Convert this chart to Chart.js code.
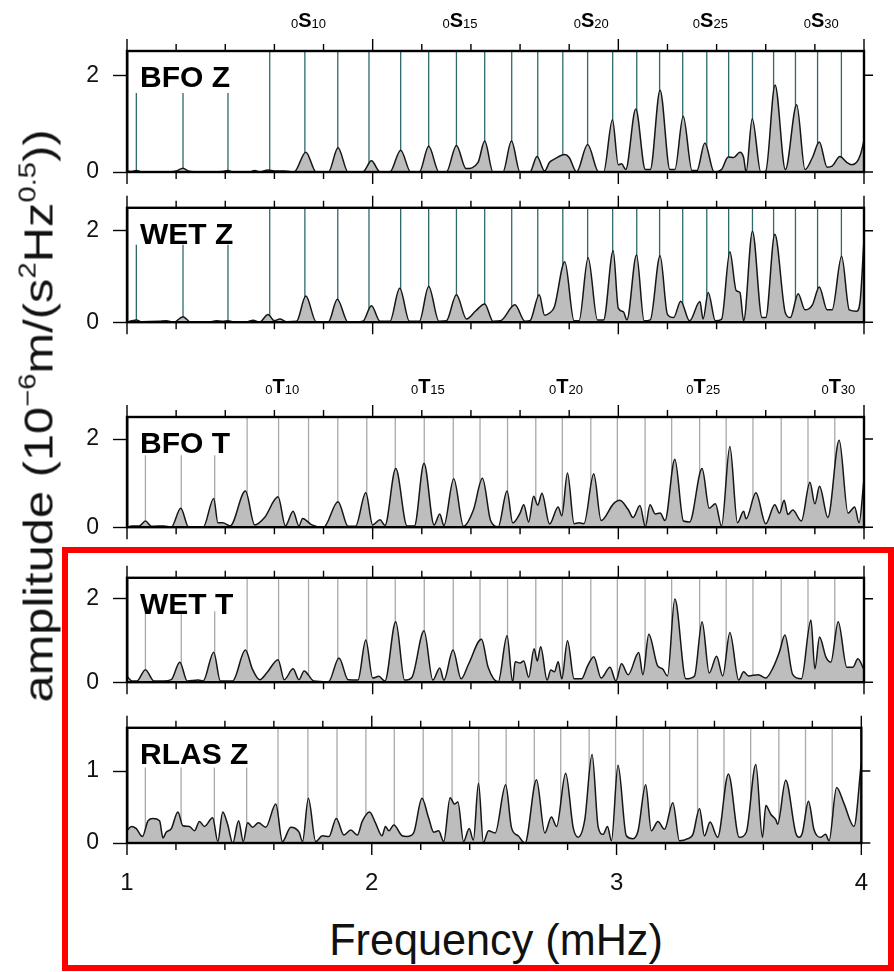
<!DOCTYPE html>
<html>
<head>
<meta charset="utf-8">
<script src="https://cdn.jsdelivr.net/npm/chart.js@4.4.1/dist/chart.umd.min.js"></script>
<style>
  body { margin: 0; background: #fff; width: 894px; height: 972px; position: relative; overflow: hidden; font-family: Arial, "Liberation Sans", sans-serif; }
  canvas { position: absolute; left: 0; }
  #ytitle { position: absolute; left: 39px; top: 416px; white-space: nowrap; font-size: 40px; color: #111;
            transform: translate(-50%, -50%) rotate(-90deg) scale(1.22, 1); }
  #ytitle sup { font-size: 60%; vertical-align: 0.7em; line-height: 0; }
  #xtitle { position: absolute; left: 496px; top: 940px; white-space: nowrap; font-size: 40px; color: #111;
            transform: translate(-50%, -50%) scale(1.08, 1.1); }
  #redbox { position: absolute; left: 62px; top: 547px; width: 832px; height: 424px; box-sizing: border-box;
            border: 6px solid #ff0000; pointer-events: none; }
</style>
</head>
<body>
<canvas id="bfoZ"></canvas>
<canvas id="wetZ"></canvas>
<canvas id="bfoT"></canvas>
<canvas id="wetT"></canvas>
<canvas id="rlasZ"></canvas>
<div id="ytitle">amplitude (10<sup>−6</sup>m/(s<sup>2</sup>Hz<sup>0.5</sup>))</div>
<div id="xtitle">Frequency (mHz)</div>
<div id="redbox"></div>
<script>
// spheroidal (0S6 .. 0S31) and toroidal (0T6 .. 0T30) mode frequencies, mHz
const sModeFreq = [1.038, 1.228, 1.411, 1.581, 1.724, 1.858, 1.985, 2.114, 2.228, 2.341,
                   2.456, 2.566, 2.672, 2.774, 2.875, 2.977, 3.075, 3.168, 3.262, 3.360,
                   3.449, 3.546, 3.632, 3.721, 3.811, 3.908];
const tModeFreq = [1.075, 1.221, 1.357, 1.489, 1.617, 1.739, 1.858, 1.976, 2.092, 2.210,
                   2.328, 2.437, 2.549, 2.664, 2.772, 2.888, 2.996, 3.109, 3.217, 3.331,
                   3.439, 3.548, 3.663, 3.772, 3.881];
const firstDegree = 6;
const labelDegrees = [10, 15, 20, 25, 30];

const xTickValues = [1, 2, 3, 4];
const zTickValues = [0, 2];
const rlasTickValues = [0, 1];

const bfoZFreq = [
  1.00, 1.02, 1.038, 1.06, 1.15, 1.20, 1.228, 1.25, 1.30, 1.39,
  1.411, 1.43, 1.50, 1.52, 1.54, 1.574, 1.60, 1.64, 1.68, 1.728,
  1.77, 1.82, 1.859, 1.90, 1.96, 1.995, 2.03, 2.07, 2.114, 2.155,
  2.19, 2.228, 2.27, 2.30, 2.341, 2.38, 2.429, 2.456, 2.49, 2.53,
  2.565, 2.60, 2.64, 2.669, 2.70, 2.72, 2.741, 2.782, 2.80, 2.83,
  2.875, 2.92, 2.94, 2.976, 3.00, 3.013, 3.03, 3.071, 3.11, 3.13,
  3.17, 3.21, 3.23, 3.264, 3.30, 3.32, 3.352, 3.39, 3.42, 3.447,
  3.47, 3.495, 3.51, 3.52, 3.545, 3.58, 3.60, 3.638, 3.68, 3.726,
  3.76, 3.79, 3.818, 3.85, 3.87, 3.902, 3.93, 3.95, 3.97, 3.985,
  4.00
];
const bfoZAmp = [
  0.02, 0.01, 0.03, 0.00, 0.00, 0.02, 0.08, 0.02, 0.00, 0.01,
  0.03, 0.00, 0.00, 0.03, 0.00, 0.04, 0.02, 0.02, 0.00, 0.41,
  0.00, 0.00, 0.50, 0.00, 0.00, 0.23, 0.00, 0.00, 0.45, 0.00,
  0.00, 0.53, 0.00, 0.00, 0.55, 0.07, 0.20, 0.64, 0.00, 0.00,
  0.64, 0.00, 0.00, 0.32, 0.02, 0.20, 0.27, 0.36, 0.30, 0.00,
  0.57, 0.00, 0.00, 1.08, 0.15, 0.17, 0.05, 1.30, 0.05, 0.05,
  1.69, 0.05, 0.05, 1.15, 0.03, 0.03, 0.60, 0.00, 0.05, 0.31,
  0.30, 0.41, 0.30, 0.00, 1.10, 0.00, 0.02, 1.80, 0.05, 1.39,
  0.05, 0.30, 0.62, 0.10, 0.12, 0.32, 0.20, 0.15, 0.20, 0.35,
  0.65
];

const wetZFreq = [
  1.00, 1.02, 1.038, 1.06, 1.13, 1.16, 1.19, 1.228, 1.26, 1.33,
  1.364, 1.39, 1.411, 1.44, 1.49, 1.513, 1.54, 1.574, 1.60, 1.622,
  1.65, 1.69, 1.728, 1.77, 1.82, 1.856, 1.90, 1.96, 1.995, 2.03,
  2.07, 2.11, 2.15, 2.19, 2.228, 2.27, 2.30, 2.341, 2.382, 2.42,
  2.456, 2.49, 2.52, 2.579, 2.62, 2.64, 2.678, 2.70, 2.72, 2.74,
  2.782, 2.82, 2.84, 2.877, 2.915, 2.94, 2.979, 3.00, 3.02, 3.035,
  3.074, 3.105, 3.13, 3.17, 3.20, 3.225, 3.254, 3.29, 3.332, 3.345,
  3.366, 3.395, 3.42, 3.454, 3.48, 3.495, 3.51, 3.546, 3.585, 3.60,
  3.637, 3.68, 3.70, 3.732, 3.76, 3.79, 3.818, 3.85, 3.87, 3.909,
  3.94, 3.97, 3.985, 4.00
];
const wetZAmp = [
  0.00, 0.03, 0.05, 0.01, 0.02, 0.03, 0.00, 0.12, 0.00, 0.00,
  0.03, 0.02, 0.03, 0.00, 0.01, 0.04, 0.00, 0.17, 0.03, 0.07,
  0.01, 0.02, 0.57, 0.01, 0.01, 0.50, 0.00, 0.02, 0.36, 0.02,
  0.02, 0.74, 0.02, 0.02, 0.78, 0.02, 0.03, 0.60, 0.07, 0.25,
  0.40, 0.02, 0.03, 0.38, 0.02, 0.03, 0.60, 0.15, 0.20, 0.34,
  1.32, 0.03, 0.03, 1.41, 0.05, 0.05, 1.56, 0.30, 0.23, 0.05,
  1.47, 0.03, 0.05, 1.45, 0.17, 0.10, 0.46, 0.03, 0.45, 0.07,
  0.65, 0.03, 0.06, 1.54, 0.69, 0.65, 0.03, 1.99, 0.10, 0.10,
  1.92, 0.20, 0.10, 0.62, 0.27, 0.38, 0.77, 0.27, 0.27, 1.44,
  0.27, 0.24, 0.50, 1.82
];

const bfoTFreq = [
  1.00, 1.02, 1.05, 1.075, 1.10, 1.15, 1.18, 1.219, 1.25, 1.31,
  1.353, 1.37, 1.39, 1.42, 1.482, 1.52, 1.56, 1.615, 1.645, 1.676,
  1.70, 1.715, 1.75, 1.80, 1.859, 1.90, 1.93, 1.972, 2.00, 2.03,
  2.05, 2.094, 2.14, 2.17, 2.209, 2.25, 2.273, 2.29, 2.33, 2.37,
  2.41, 2.447, 2.48, 2.511, 2.547, 2.57, 2.60, 2.615, 2.635, 2.655,
  2.672, 2.689, 2.72, 2.755, 2.77, 2.793, 2.82, 2.84, 2.86, 2.90,
  2.93, 2.98, 3.006, 3.04, 3.06, 3.088, 3.11, 3.129, 3.15, 3.17,
  3.19, 3.23, 3.265, 3.29, 3.341, 3.37, 3.395, 3.42, 3.454, 3.485,
  3.51, 3.52, 3.56, 3.60, 3.637, 3.656, 3.675, 3.69, 3.71, 3.745,
  3.78, 3.80, 3.819, 3.853, 3.899, 3.935, 3.962, 3.98, 4.00
];
const bfoTAmp = [
  0.00, 0.03, 0.03, 0.14, 0.02, 0.03, 0.00, 0.43, 0.01, 0.00,
  0.65, 0.10, 0.10, 0.03, 0.82, 0.05, 0.22, 0.69, 0.03, 0.36,
  0.03, 0.20, 0.06, 0.00, 0.58, 0.02, 0.02, 0.78, 0.05, 0.17,
  0.04, 1.33, 0.03, 0.03, 1.45, 0.05, 0.30, 0.04, 1.10, 0.02,
  0.39, 1.11, 0.15, 0.01, 0.82, 0.10, 0.32, 0.51, 0.12, 0.70,
  0.50, 0.77, 0.07, 0.46, 0.26, 1.23, 0.08, 0.10, 0.08, 1.21,
  0.15, 0.53, 0.61, 0.40, 0.22, 0.49, 0.01, 0.51, 0.30, 0.32,
  0.15, 1.54, 0.14, 0.12, 1.33, 0.43, 0.53, 0.03, 1.83, 0.10,
  0.36, 0.19, 0.78, 0.08, 0.51, 0.32, 0.61, 0.29, 0.39, 0.14,
  1.02, 0.53, 0.93, 0.22, 1.97, 0.32, 0.46, 0.10, 1.10
];

const wetTFreq = [
  1.00, 1.02, 1.04, 1.075, 1.11, 1.15, 1.18, 1.215, 1.245, 1.29,
  1.31, 1.353, 1.38, 1.43, 1.482, 1.51, 1.54, 1.57, 1.615, 1.64,
  1.676, 1.70, 1.721, 1.76, 1.82, 1.863, 1.90, 1.94, 1.972, 2.00,
  2.025, 2.05, 2.094, 2.13, 2.16, 2.209, 2.245, 2.273, 2.29, 2.327,
  2.36, 2.39, 2.443, 2.47, 2.511, 2.547, 2.57, 2.58, 2.60, 2.615,
  2.635, 2.657, 2.67, 2.684, 2.71, 2.725, 2.74, 2.755, 2.77, 2.793,
  2.82, 2.85, 2.875, 2.90, 2.93, 2.966, 2.99, 3.013, 3.04, 3.083,
  3.10, 3.124, 3.16, 3.18, 3.20, 3.23, 3.275, 3.31, 3.341, 3.37,
  3.40, 3.425, 3.454, 3.49, 3.51, 3.53, 3.57, 3.60, 3.63, 3.656,
  3.678, 3.71, 3.745, 3.784, 3.80, 3.819, 3.845, 3.865, 3.895, 3.93,
  3.955, 3.975, 4.00
];
const wetTAmp = [
  0.14, 0.03, 0.03, 0.30, 0.03, 0.03, 0.06, 0.48, 0.03, 0.05,
  0.03, 0.72, 0.03, 0.03, 0.77, 0.32, 0.06, 0.23, 0.54, 0.06,
  0.32, 0.06, 0.27, 0.03, 0.01, 0.58, 0.06, 0.05, 1.01, 0.10,
  0.14, 0.03, 1.45, 0.05, 0.12, 1.23, 0.05, 0.34, 0.05, 0.77,
  0.08, 0.43, 1.03, 0.36, 0.01, 1.11, 0.00, 0.49, 0.46, 0.51,
  0.12, 0.80, 0.51, 0.85, 0.05, 0.29, 0.25, 0.49, 0.08, 0.99,
  0.08, 0.08, 0.39, 0.61, 0.10, 0.36, 0.03, 0.44, 0.18, 0.71,
  0.18, 1.15, 0.39, 0.32, 0.15, 1.99, 0.08, 0.15, 1.45, 0.22,
  0.62, 0.15, 1.19, 0.05, 0.25, 0.15, 0.18, 0.10, 0.35, 0.73,
  1.13, 0.18, 0.08, 1.49, 0.32, 1.08, 0.60, 0.48, 1.45, 0.36,
  0.36, 0.56, 0.30
];

const rlasZFreq = [
  1.00, 1.018, 1.038, 1.063, 1.086, 1.106, 1.133, 1.147, 1.16, 1.181,
  1.208, 1.228, 1.255, 1.276, 1.296, 1.316, 1.35, 1.371, 1.391, 1.411,
  1.432, 1.456, 1.475, 1.493, 1.513, 1.537, 1.567, 1.608, 1.635, 1.669,
  1.703, 1.717, 1.741, 1.771, 1.798, 1.825, 1.855, 1.886, 1.914, 1.941,
  1.961, 1.991, 2.015, 2.042, 2.056, 2.07, 2.09, 2.124, 2.144, 2.171,
  2.205, 2.232, 2.253, 2.273, 2.294, 2.32, 2.338, 2.352, 2.375, 2.398,
  2.415, 2.436, 2.456, 2.477, 2.504, 2.547, 2.571, 2.598, 2.626, 2.673,
  2.707, 2.734, 2.755, 2.792, 2.823, 2.843, 2.87, 2.90, 2.925, 2.945,
  2.963, 2.979, 3.006, 3.04, 3.067, 3.088, 3.119, 3.142, 3.169, 3.196,
  3.23, 3.257, 3.291, 3.312, 3.339, 3.359, 3.382, 3.413, 3.457, 3.501,
  3.53, 3.569, 3.596, 3.61, 3.63, 3.651, 3.658, 3.691, 3.732, 3.746,
  3.759, 3.784, 3.807, 3.834, 3.854, 3.868, 3.899, 3.929, 3.97, 4.00
];
const rlasZAmp = [
  0.17, 0.23, 0.20, 0.09, 0.31, 0.34, 0.31, 0.07, 0.15, 0.20,
  0.43, 0.24, 0.23, 0.17, 0.30, 0.23, 0.35, 0.02, 0.43, 0.26,
  0.00, 0.31, 0.02, 0.28, 0.22, 0.28, 0.22, 0.54, 0.02, 0.22,
  0.15, 0.02, 0.62, 0.02, 0.10, 0.09, 0.34, 0.11, 0.18, 0.11,
  0.30, 0.43, 0.28, 0.10, 0.23, 0.17, 0.25, 0.10, 0.09, 0.14,
  0.62, 0.35, 0.15, 0.17, 0.02, 0.63, 0.54, 0.57, 0.02, 0.20,
  0.04, 0.83, 0.01, 0.17, 0.14, 0.81, 0.21, 0.10, 0.00, 0.88,
  0.14, 0.36, 0.23, 0.97, 0.21, 0.08, 0.32, 1.23, 0.22, 0.12,
  0.23, 0.03, 1.08, 0.10, 0.06, 0.17, 0.81, 0.17, 0.30, 0.19,
  0.56, 0.03, 0.06, 0.12, 0.48, 0.10, 0.29, 0.08, 0.96, 0.08,
  0.15, 1.09, 0.08, 0.52, 0.40, 0.32, 0.26, 0.87, 0.14, 0.08,
  0.14, 0.58, 0.18, 0.08, 0.12, 0.03, 0.77, 0.55, 0.23, 1.12
];

const FONT = 'Arial, "Liberation Sans", sans-serif';
const S_COLOR = '#2e6a6c';
const T_COLOR = '#a9a9a9';

const panels = [
  { id: 'bfoZ', name: 'BFO Z', freq: bfoZFreq, amp: bfoZAmp, modes: sModeFreq, modeColor: S_COLOR,
    shortCount: 3, shortTop: 1.63, yMax: 2.5, yTicks: zTickValues,
    canvasTop: 0, canvasH: 200, top: 51, bottom: 172, letter: 'S', labelBaseline: 27 },
  { id: 'wetZ', name: 'WET Z', freq: wetZFreq, amp: wetZAmp, modes: sModeFreq, modeColor: S_COLOR,
    shortCount: 3, shortTop: 1.69, yMax: 2.5, yTicks: zTickValues,
    canvasTop: 180, canvasH: 170, top: 203, bottom: 325 },
  { id: 'bfoT', name: 'BFO T', freq: bfoTFreq, amp: bfoTAmp, modes: tModeFreq, modeColor: T_COLOR,
    shortCount: 3, shortTop: 1.63, yMax: 2.5, yTicks: zTickValues,
    canvasTop: 355, canvasH: 200, top: 417, bottom: 537, letter: 'T', labelBaseline: 393 },
  { id: 'wetT', name: 'WET T', freq: wetTFreq, amp: wetTAmp, modes: tModeFreq, modeColor: T_COLOR,
    shortCount: 3, shortTop: 1.70, yMax: 2.5, yTicks: zTickValues,
    canvasTop: 550, canvasH: 160, top: 570, bottom: 691 },
  { id: 'rlasZ', name: 'RLAS Z', freq: rlasZFreq, amp: rlasZAmp, modes: tModeFreq, modeColor: T_COLOR,
    shortCount: 4, shortTop: 1.05, yMax: 1.6, yTicks: rlasTickValues,
    canvasTop: 700, canvasH: 210, top: 721, bottom: 843, showX: true }
];

// frame, outward ticks, station name and mode labels
const panelFrame = {
  id: 'panelFrame',
  afterDatasetsDraw(chart, args, opts) {
    const { ctx, chartArea: a, scales: { x, y } } = chart;
    ctx.save();
    ctx.strokeStyle = '#000';
    ctx.lineWidth = 1.4;
    ctx.beginPath();
    for (let k = 0; k <= 15; k++) {
      const px = x.getPixelForValue(1 + k * 0.2);
      const len = k % 5 === 0 ? 12 : 7;
      ctx.moveTo(px, a.top);
      ctx.lineTo(px, a.top - len);
      ctx.moveTo(px, a.bottom);
      ctx.lineTo(px, a.bottom + len);
    }
    opts.yTicks.forEach(v => {
      const py = y.getPixelForValue(v);
      ctx.moveTo(a.right, py);
      ctx.lineTo(a.right + 9, py);
    });
    ctx.stroke();

    ctx.lineWidth = 2.4;
    ctx.strokeRect(a.left, a.top, a.right - a.left, a.bottom - a.top);

    ctx.fillStyle = '#000';
    ctx.font = 'bold 30px ' + FONT;
    ctx.textBaseline = 'alphabetic';
    ctx.textAlign = 'left';
    ctx.fillText(opts.name, a.left + 13, a.top + 36);

    if (opts.letter) {
      const base = opts.labelBaseline;
      labelDegrees.forEach(deg => {
        const px = x.getPixelForValue(opts.modes[deg - firstDegree]);
        ctx.font = 'bold 20px ' + FONT;
        const w = ctx.measureText(opts.letter).width;
        ctx.textAlign = 'center';
        ctx.fillText(opts.letter, px, base);
        ctx.font = '13px ' + FONT;
        ctx.textAlign = 'right';
        ctx.fillText('0', px - w / 2, base + 1);
        ctx.textAlign = 'left';
        ctx.fillText(String(deg), px + w / 2, base + 1);
      });
    }
    ctx.restore();
  }
};

function modeLines(freqs, shortCount, shortTop, fullTop) {
  const pts = [];
  freqs.forEach((f, i) => {
    pts.push({ x: f, y: 0 }, { x: f, y: i < shortCount ? shortTop : fullTop }, { x: f, y: null });
  });
  return pts;
}

panels.forEach(p => {
  const canvas = document.getElementById(p.id);
  canvas.width = 894;
  canvas.height = p.canvasH;
  canvas.style.top = p.canvasTop + 'px';
  const xAxisH = p.showX ? 50 : 0;

  new Chart(canvas.getContext('2d'), {
    type: 'line',
    data: {
      datasets: [
        {
          data: modeLines(p.modes, p.shortCount, p.shortTop, p.yMax),
          borderColor: p.modeColor,
          borderWidth: 1.3,
          pointRadius: 0,
          tension: 0,
          fill: false,
          spanGaps: false,
          order: 2
        },
        {
          data: p.freq.map((f, i) => ({ x: f, y: p.amp[i] })),
          borderColor: '#151515',
          borderWidth: 1.5,
          backgroundColor: '#bdbdbd',
          fill: 'origin',
          pointRadius: 0,
          cubicInterpolationMode: 'monotone',
          order: 1
        }
      ]
    },
    options: {
      responsive: false,
      animation: false,
      events: [],
      layout: {
        autoPadding: false,
        padding: { left: 0, right: 30, top: p.top - p.canvasTop, bottom: p.canvasTop + p.canvasH - p.bottom - xAxisH }
      },
      plugins: {
        legend: { display: false },
        tooltip: { enabled: false },
        panelFrame: { name: p.name, yTicks: p.yTicks, letter: p.letter, labelBaseline: p.letter ? p.labelBaseline - p.canvasTop : 0, modes: p.modes }
      },
      scales: {
        x: {
          type: 'linear',
          min: 1,
          max: 4,
          display: !!p.showX,
          afterBuildTicks: axis => { axis.ticks = xTickValues.map(v => ({ value: v })); },
          afterFit: axis => { axis.height = xAxisH; },
          grid: { display: false, drawTicks: false },
          border: { display: false },
          ticks: { color: '#111', font: { family: FONT, size: 24 }, padding: 26, maxRotation: 0 }
        },
        y: {
          min: 0,
          max: p.yMax,
          afterBuildTicks: axis => { axis.ticks = p.yTicks.map(v => ({ value: v })); },
          afterFit: axis => { axis.width = 127; },
          grid: { drawOnChartArea: false, drawTicks: true, tickLength: 14, tickColor: '#000', tickWidth: 1.4 },
          border: { display: true, color: '#000', width: 2.4 },
          ticks: { color: '#111', font: { family: FONT, size: 23 }, padding: 14 }
        }
      }
    },
    plugins: [panelFrame]
  });
});
</script>
</body>
</html>
